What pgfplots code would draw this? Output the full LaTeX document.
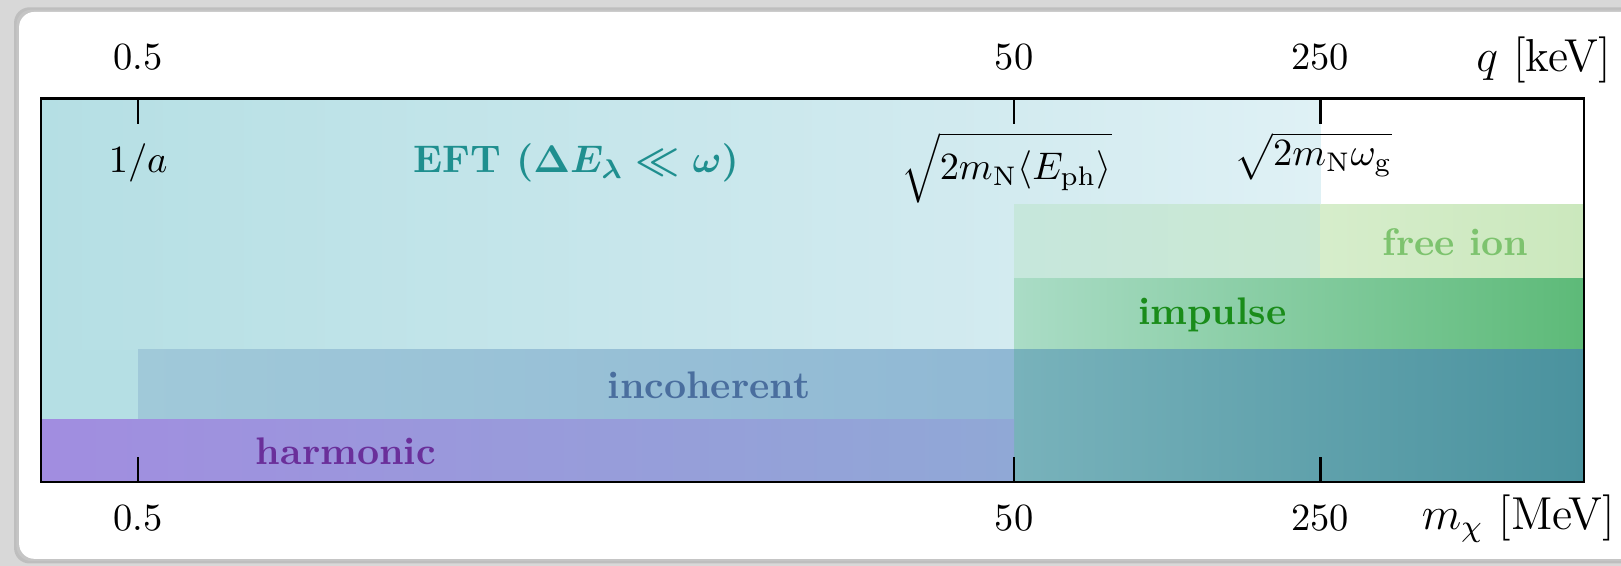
\documentclass[border=0pt]{standalone}
\usepackage{pgfplots}
\pgfplotsset{compat=1.18}
\usepackage{amsmath,amssymb}
\definecolor{bggray}{HTML}{D8D8D8}
\definecolor{eftA}{HTML}{B5DFE4}
\definecolor{eftB}{HTML}{D3EBF0}
\definecolor{eftC}{HTML}{DFF1F5}
\definecolor{freeA}{HTML}{C6E7DC}
\definecolor{freeB}{HTML}{CBE8D2}
\definecolor{freeC}{HTML}{D6EDCB}
\definecolor{freeD}{HTML}{CBE8BD}
\definecolor{impA}{HTML}{AADCC6}
\definecolor{impB}{HTML}{5DBA78}
\definecolor{incA}{HTML}{A0C9D9}
\definecolor{incB}{HTML}{90B8D4}
\definecolor{lowA}{HTML}{78B2BB}
\definecolor{lowB}{HTML}{4A929E}
\definecolor{harA}{HTML}{A18DE0}
\definecolor{harB}{HTML}{90A8D6}
\definecolor{tEFT}{HTML}{1F8F8F}
\definecolor{tfree}{HTML}{7DC36E}
\definecolor{timp}{HTML}{1A8C1A}
\definecolor{tinc}{HTML}{4A6E9E}
\definecolor{thar}{HTML}{6A2F9A}
\begin{document}
\begin{tikzpicture}
\useasboundingbox (-10.66pt,-21.84pt) rectangle (410.8pt,125.3pt);
\clip (-10.66pt,-21.84pt) rectangle (410.8pt,125.3pt);
\fill[bggray] (-10.66pt,-21.84pt) rectangle (410.8pt,125.3pt);
\fill[black!35, opacity=.5, rounded corners=4pt] (-7.0pt,-21.2pt) rectangle (420pt,123.4pt);
\fill[black!20, opacity=.5, rounded corners=4pt] (-6.4pt,-20.6pt) rectangle (420pt,122.8pt);
\fill[white, rounded corners=4pt] (-5.7pt,-20pt) rectangle (420pt,122.2pt);
\begin{axis}[
  scale only axis, width=401.2pt, height=99.6pt,
  at={(0,0)}, anchor=south west,
  xmode=log, xmin=0.3, xmax=1000, ymin=0, ymax=1,
  xtick={0.5,50,250}, xticklabels={0.5,50,250},
  ytick=\empty, xtick pos=both, xticklabel pos=lower,
  tick align=inside, major tick length=6.5pt,
  tick style={black, line width=0.6pt},
  axis line style={black, line width=0.7pt},
  xticklabel shift=2.5pt,
  axis on top,
  clip=false,
]
% EFT regions
\addplot[draw=none, left color=eftA, right color=eftB] coordinates {(0.3,0.345) (50,0.345) (50,1) (0.3,1)} -- cycle;
\addplot[draw=none, fill=eftA] coordinates {(0.3,0.162) (0.5,0.162) (0.5,0.345) (0.3,0.345)} -- cycle;
\addplot[draw=none, left color=eftB, right color=eftC] coordinates {(50,0.723) (250,0.723) (250,1) (50,1)} -- cycle;
% free ion
\addplot[draw=none, left color=freeA, right color=freeB] coordinates {(50,0.53) (250,0.53) (250,0.723) (50,0.723)} -- cycle;
\addplot[draw=none, left color=freeC, right color=freeD] coordinates {(250,0.53) (1000,0.53) (1000,0.723) (250,0.723)} -- cycle;
% impulse
\addplot[draw=none, left color=impA, right color=impB] coordinates {(50,0.345) (1000,0.345) (1000,0.53) (50,0.53)} -- cycle;
% incoherent
\addplot[draw=none, left color=incA, right color=incB] coordinates {(0.5,0.162) (50,0.162) (50,0.345) (0.5,0.345)} -- cycle;
% lower right overlap
\addplot[draw=none, left color=lowA, right color=lowB] coordinates {(50,0) (1000,0) (1000,0.345) (50,0.345)} -- cycle;
% harmonic
\addplot[draw=none, left color=harA, right color=harB] coordinates {(0.3,0) (50,0) (50,0.162) (0.3,0.162)} -- cycle;
% labels
\node at (axis cs:0.5,0.833) {$1/a$};
\node[text=tEFT] at (axis cs:5,0.833) {\textbf{EFT {\boldmath$(\Delta E_\lambda \ll \omega)$}}};
\node[anchor=north, inner sep=0pt] at (axis cs:48,0.915) {$\sqrt{\vphantom{\big(}2m_{\mathrm{N}}\langle E_{\mathrm{ph}}\rangle}$};
\node[anchor=north, inner sep=0pt] at (axis cs:241,0.915) {$\sqrt{2m_{\mathrm{N}}\omega_{\mathrm{g}}}$};
\node[text=tfree, anchor=east, inner sep=0pt] at (axis cs:750,0.626) {\textbf{free ion}};
\node[text=timp] at (axis cs:141.6,0.437) {\textbf{impulse}};
\node[text=tinc] at (axis cs:10.05,0.2535) {\textbf{incoherent}};
\node[text=thar] at (axis cs:1.49,0.081) {\textbf{harmonic}};
\node[anchor=base east, inner sep=0pt, font=\large] at ([xshift=8.3pt,yshift=-12.3pt]rel axis cs:1,0) {$m_\chi$ [MeV]};
\node[anchor=base east, inner sep=0pt, font=\large] at ([xshift=7.2pt,yshift=7.2pt]rel axis cs:1,1) {$q$ [keV]};
\end{axis}
\begin{axis}[
  scale only axis, width=401.2pt, height=99.6pt,
  at={(0,0)}, anchor=south west,
  xmode=log, xmin=0.3, xmax=1000, ymin=0, ymax=1,
  xtick={0.5,50,250}, xticklabels={0.5,50,250},
  ytick=\empty, xticklabel pos=upper,
  xtick style={draw=none}, axis line style={draw=none},
  xticklabel shift=3.9pt,
]
\addplot[draw=none] coordinates {(1,0.5)};
\end{axis}
\end{tikzpicture}
\end{document}
